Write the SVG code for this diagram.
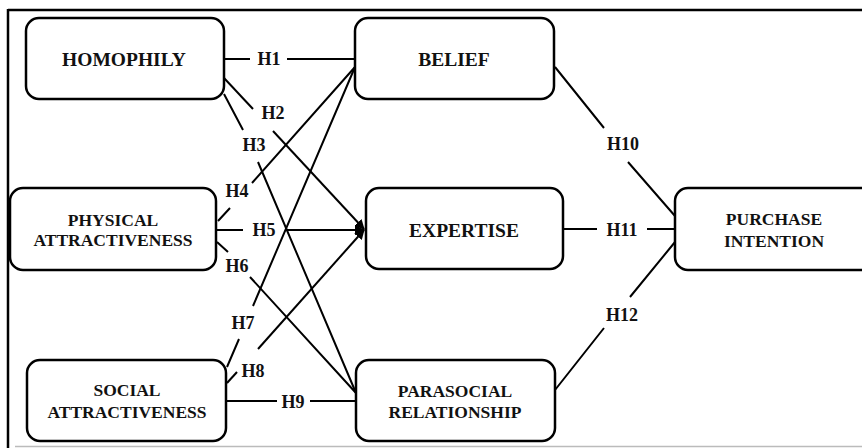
<svg xmlns="http://www.w3.org/2000/svg" width="862" height="448" viewBox="0 0 862 448">
<style>
.box{fill:#fff;stroke:#000;stroke-width:2.5}
.t{font-family:"Liberation Serif","Times New Roman",serif;font-weight:bold;font-size:17.5px;fill:#111;text-anchor:middle}
.big{font-size:19.5px}
.l{font-family:"Liberation Serif","Times New Roman",serif;font-weight:bold;font-size:18px;fill:#111;text-anchor:middle}
.c{fill:none;stroke:#000;stroke-width:2}
</style>
<defs>
<marker id="ah" viewBox="0 0 10 10" refX="9" refY="5" markerWidth="5" markerHeight="5" markerUnits="strokeWidth" orient="auto">
<path d="M0,0 L10,5 L0,10 z" fill="#000"/>
</marker>
</defs>
<rect x="0" y="0" width="862" height="448" fill="#fff"/>
<g id="frame">
<line x1="8" y1="10" x2="862" y2="10" stroke="#000" stroke-width="2.5"/>
<line x1="8" y1="9" x2="8" y2="448" stroke="#000" stroke-width="2.5"/>
<line x1="15" y1="446.5" x2="862" y2="446.5" stroke="#bbb" stroke-width="1.5"/>
</g>
<g id="connectors">
<path class="c" d="M224,59 L250,59 M287,59 L355,59"/>
<path class="c" d="M224,78 L253,109"/>
<path class="c" d="M273,131 L364,229" marker-end="url(#ah)"/>
<path class="c" d="M224,94 L243,130 M258,162 L356,393"/>
<path class="c" d="M218,221 L230,208 M252,183 L355,67"/>
<path class="c" d="M216,230 L243,230"/>
<path class="c" d="M285,230 L364,230" marker-end="url(#ah)"/>
<path class="c" d="M217,242 L228,252 M250,277 L356,393"/>
<path class="c" d="M227,367 L239,339 M253,306 L355,67"/>
<path class="c" d="M227,383 L237,372"/>
<path class="c" d="M258,349 L364,230" marker-end="url(#ah)"/>
<path class="c" d="M226,401 L277,401 M310,401 L356,401"/>
<path class="c" d="M555,67 L604,128 M628,162 L675,216"/>
<path class="c" d="M563,229 L597,229 M647,229 L675,229"/>
<path class="c" d="M555,390 L604,328 M630,297 L675,242"/>
<text class="l" x="269" y="65">H1</text>
<text class="l" x="273" y="119">H2</text>
<text class="l" x="254" y="151">H3</text>
<text class="l" x="237" y="197">H4</text>
<text class="l" x="264" y="236">H5</text>
<text class="l" x="237" y="272">H6</text>
<text class="l" x="243" y="329">H7</text>
<text class="l" x="253" y="377">H8</text>
<text class="l" x="293" y="408">H9</text>
<text class="l" x="623" y="150">H10</text>
<text class="l" x="622" y="236">H11</text>
<text class="l" x="622" y="321">H12</text>
</g>
<g id="homophily">
<rect class="box" x="26" y="18" width="198" height="81" rx="13"/>
<text class="t big" x="124" y="66">HOMOPHILY</text>
</g>
<g id="belief">
<rect class="box" x="355" y="18" width="199" height="81" rx="13"/>
<text class="t big" x="454" y="66">BELIEF</text>
</g>
<g id="physical">
<rect class="box" x="10" y="188" width="206" height="82" rx="13"/>
<text class="t" x="113" y="226">PHYSICAL</text>
<text class="t" x="113" y="246">ATTRACTIVENESS</text>
</g>
<g id="expertise">
<rect class="box" x="366" y="188" width="197" height="81" rx="13"/>
<text class="t big" x="464" y="237">EXPERTISE</text>
</g>
<g id="purchase">
<rect class="box" x="675" y="188" width="200" height="82" rx="13"/>
<text class="t" x="774" y="225">PURCHASE</text>
<text class="t" x="774" y="247">INTENTION</text>
</g>
<g id="social">
<rect class="box" x="27" y="360" width="199" height="81" rx="13"/>
<text class="t" x="127" y="396">SOCIAL</text>
<text class="t" x="127" y="418">ATTRACTIVENESS</text>
</g>
<g id="parasocial">
<rect class="box" x="356" y="360" width="199" height="81" rx="13"/>
<text class="t" x="455" y="397">PARASOCIAL</text>
<text class="t" x="455" y="418">RELATIONSHIP</text>
</g>
</svg>
